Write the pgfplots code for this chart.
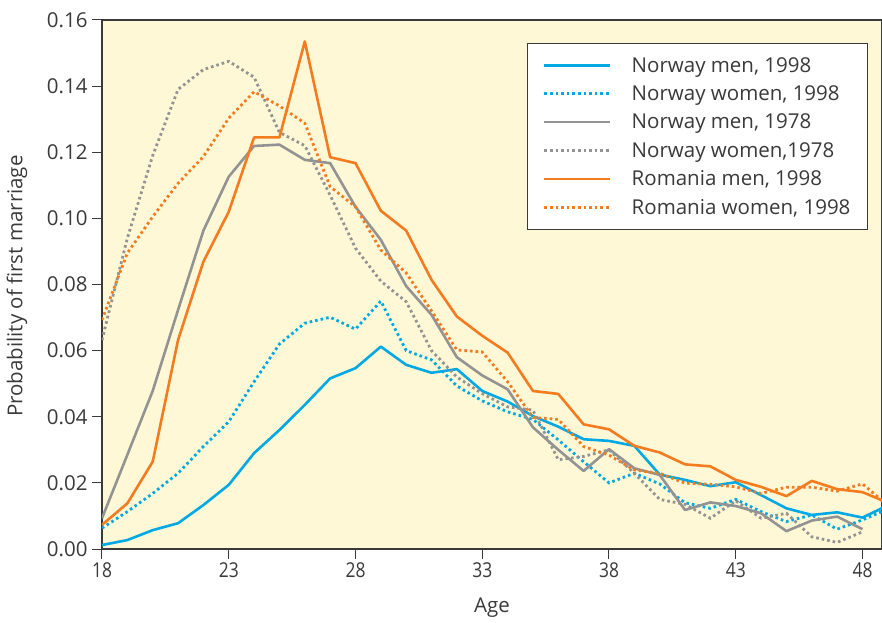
\documentclass[border=0pt]{standalone}
\usepackage{pgfplots}
\usepackage{pgfplotstable}
\pgfplotsset{compat=1.18}
\usepackage{fontspec}
\setmainfont{Open Sans}
\definecolor{nblue}{HTML}{00A8E4}
\definecolor{ngrey}{HTML}{939393}
\definecolor{rorange}{HTML}{F47B20}
\definecolor{bgy}{HTML}{FEF8D6}
\definecolor{axdark}{HTML}{3A3A3A}
\pgfplotstableread{
age nmA nwA nmB nwB rmA rwA
18 0.0012 0.0063 0.0093 0.0632 0.0073 0.0693
19 0.0027 0.0113 0.0285 0.0940 0.0138 0.0895
20 0.0057 0.0168 0.0478 0.1190 0.0264 0.1005
21 0.0078 0.0229 0.0723 0.1390 0.0632 0.1106
22 0.0133 0.0310 0.0963 0.1450 0.0869 0.1187
23 0.0194 0.0385 0.1126 0.1475 0.1020 0.1303
24 0.0290 0.0506 0.1219 0.1427 0.1245 0.1383
25 0.0360 0.0620 0.1223 0.1260 0.1245 0.1340
26 0.0436 0.0683 0.1177 0.1220 0.1535 0.1288
27 0.0516 0.0701 0.1167 0.1070 0.1185 0.1096
28 0.0547 0.0665 0.1035 0.0910 0.1167 0.1035
29 0.0612 0.0750 0.0935 0.0810 0.1023 0.0904
30 0.0557 0.0600 0.0795 0.0748 0.0963 0.0835
31 0.0533 0.0572 0.0708 0.0600 0.0814 0.0720
32 0.0544 0.0493 0.0580 0.0520 0.0703 0.0602
33 0.0478 0.0448 0.0525 0.0470 0.0645 0.0596
34 0.0446 0.0415 0.0483 0.0430 0.0594 0.0506
35 0.0402 0.0392 0.0368 0.0420 0.0478 0.0398
36 0.0370 0.0330 0.0300 0.0270 0.0469 0.0392
37 0.0332 0.0264 0.0236 0.0280 0.0377 0.0310
38 0.0327 0.0200 0.0302 0.0300 0.0362 0.0284
39 0.0312 0.0229 0.0244 0.0229 0.0312 0.0239
40 0.0225 0.0197 0.0224 0.0150 0.0292 0.0229
41 0.0209 0.0140 0.0118 0.0135 0.0256 0.0199
42 0.0190 0.0123 0.0141 0.0093 0.0250 0.0196
43 0.0202 0.0150 0.0130 0.0146 0.0209 0.0188
44 0.0163 0.0113 0.0108 0.0093 0.0188 0.0168
45 0.0123 0.0083 0.0054 0.0108 0.0160 0.0187
46 0.0103 0.0103 0.0086 0.0037 0.0206 0.0187
47 0.0111 0.0060 0.0098 0.0020 0.0181 0.0175
48 0.0095 0.0088 0.0060 0.0052 0.0172 0.0197
49 0.0132 0.0121 nan nan 0.0140 0.0132
}\data
\begin{document}
\begin{tikzpicture}
\useasboundingbox (-102pt,-73pt) rectangle (780pt,549pt);
\begin{axis}[
  at={(0pt,0pt)}, anchor=south west,
  scale only axis, width=780pt, height=529pt,
  xmin=18, xmax=48.77, ymin=0, ymax=0.16,
  xtick={18,23,28,33,38,43,48},
  ytick={0,0.02,0.04,0.06,0.08,0.10,0.12,0.14,0.16},
  axis background/.style={fill=bgy},
  axis line style={axdark, line width=1.2pt},
  tick style={axdark, line width=1pt},
  tick align=outside, major tick length=10pt,
  xtick pos=bottom, ytick pos=left,
  scaled y ticks=false,
  /pgf/number format/assume math mode=true,
  yticklabel style={/pgf/number format/.cd, fixed, fixed zerofill, precision=2, /tikz/.cd, font=\fontsize{20.5}{24}\selectfont, text=axdark, xshift=-1pt},
  xticklabel style={font=\fontsize{20.5}{24}\selectfont, text=axdark, xscale=0.85},
  xlabel={Age}, ylabel={Probability of first marriage},
  xlabel style={font=\fontsize{20.5}{24}\selectfont, text=axdark, at={(axis description cs:0.5,-0.1115)}, anchor=center},
  ylabel style={font=\fontsize{20.5}{24}\selectfont, text=axdark, at={(axis description cs:-0.109,0.497)}, anchor=center, rotate=0},
  legend cell align=left,
  legend image code/.code={\draw[#1] (0pt,0pt) -- (66pt,0pt);},
  legend style={at={(rel axis cs:0.982,0.957)}, anchor=north east, draw=axdark, line width=1pt, fill=white,
    font=\fontsize{20.5}{24}\selectfont, text=axdark, inner xsep=15pt, inner ysep=12pt, row sep=8pt,
    /tikz/every odd column/.append style={column sep=18pt}},
]
\addplot[nblue, line width=2.6pt, line join=round] table[x=age, y=nmA] {\data};
\addlegendentry{Norway men, 1998}
\addplot[nblue, line width=2.8pt, dash pattern=on 2.6pt off 3pt] table[x=age, y=nwA] {\data};
\addlegendentry{Norway women, 1998}
\addplot[ngrey, line width=2.6pt, line join=round] table[x=age, y=nmB] {\data};
\addlegendentry{Norway men, 1978}
\addplot[ngrey, line width=2.8pt, dash pattern=on 2.6pt off 3pt] table[x=age, y=nwB] {\data};
\addlegendentry{Norway women,1978}
\addplot[rorange, line width=2.6pt, line join=round] table[x=age, y=rmA] {\data};
\addlegendentry{Romania men, 1998}
\addplot[rorange, line width=2.8pt, dash pattern=on 2.6pt off 3pt] table[x=age, y=rwA] {\data};
\addlegendentry{Romania women, 1998}
\end{axis}
\end{tikzpicture}
\end{document}
